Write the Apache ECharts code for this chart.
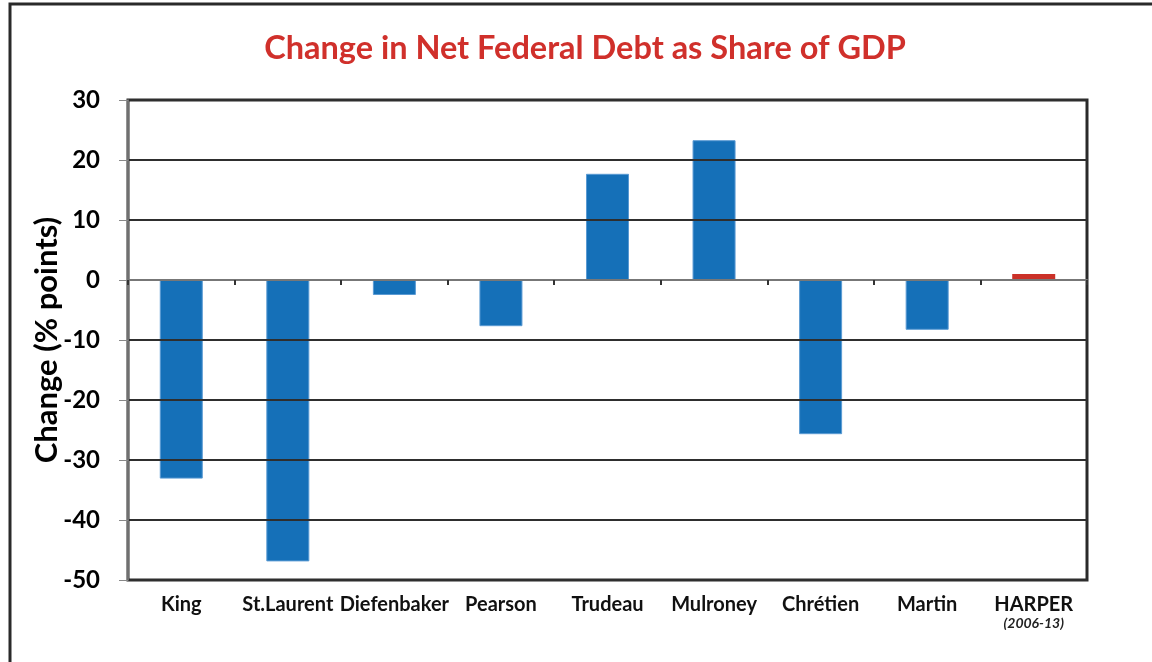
<!DOCTYPE html>
<html>
<head>
<meta charset="utf-8">
<script src="https://cdn.jsdelivr.net/npm/echarts@6/dist/echarts.min.js"></script>
<style>
  html, body { margin: 0; padding: 0; background: #ffffff; }
  #chart { width: 1152px; height: 662px; }
</style>
</head>
<body>
<div id="chart"></div>
<script>
// Prime ministers, in order of office
const categories = ['King', 'St.Laurent', 'Diefenbaker', 'Pearson', 'Trudeau', 'Mulroney', 'Chrétien', 'Martin', 'HARPER'];
// Change in net federal debt, percentage points of GDP
const debtChange = [-33.1, -46.9, -2.5, -7.7, 17.7, 23.3, -25.7, -8.3, 1.0];
const yTicks = { min: -50, max: 30, step: 10 };
const harperNote = '(2006-13)';

const FONT = 'Lato';
const BLUE = '#1570b8';
const RED = '#cb3128';

const chart = echarts.init(document.getElementById('chart'), null, { renderer: 'canvas' });

const barData = debtChange.map((v, i) => ({
  value: v,
  itemStyle: categories[i] === 'HARPER'
    ? { color: RED, borderColor: RED, borderWidth: 0 }
    : { color: BLUE, borderColor: '#5a9ad3', borderWidth: 1 }
}));

chart.setOption({
  animation: false,
  backgroundColor: '#ffffff',
  title: {
    text: 'Change in Net Federal Debt as Share of GDP',
    left: 580,
    textAlign: 'center',
    top: 27,
    textStyle: { fontFamily: FONT, fontWeight: 'bold', fontSize: 32.5, color: '#d0302b' }
  },
  grid: {
    left: 128, top: 100, right: 65, bottom: 82,
    show: true, borderColor: '#2a2a2a', borderWidth: 3, backgroundColor: 'transparent'
  },
  xAxis: [
    {
      type: 'category',
      data: categories,
      axisLine: { onZero: true, lineStyle: { color: '#777777', width: 2 } },
      axisTick: { show: true, inside: false, length: 5, lineStyle: { color: '#333333', width: 2 } },
      axisLabel: { show: false },
      splitLine: { show: false },
      z: 5
    },
    {
      type: 'category',
      data: categories,
      position: 'bottom',
      axisLine: { show: false, onZero: false },
      axisTick: { show: false },
      axisLabel: {
        margin: 14,
        interval: 0,
        fontFamily: FONT,
        fontWeight: 'bold',
        fontSize: 20,
        color: '#111111',
        formatter: (name) => name === 'HARPER' ? '{b|' + name + '}\n{n|' + harperNote + '}' : '{b|' + name + '}',
        rich: {
          b: { fontFamily: FONT, fontWeight: 'bold', fontSize: 20, color: '#111111', lineHeight: 22 },
          n: { fontFamily: FONT, fontStyle: 'italic', fontSize: 14, color: '#222222', lineHeight: 15 }
        }
      },
      splitLine: { show: false }
    }
  ],
  yAxis: {
    type: 'value',
    min: yTicks.min,
    max: yTicks.max,
    interval: yTicks.step,
    name: 'Change (% points)',
    nameLocation: 'middle',
    nameGap: 66,
    nameMoveOverlap: false,
    nameRotate: 90,
    nameTextStyle: { fontFamily: FONT, fontWeight: 'bold', fontSize: 31, color: '#000000' },
    axisLine: { show: true, lineStyle: { color: '#888888', width: 1.5 } },
    axisTick: { show: true, length: 9, lineStyle: { color: '#888888', width: 1 } },
    axisLabel: { margin: 28, fontFamily: FONT, fontWeight: 'bold', fontSize: 24, color: '#000000' },
    splitLine: { show: true, lineStyle: { color: '#2e2e2e', width: 2 } },
    z: 4
  },
  series: [{
    type: 'bar',
    xAxisIndex: 0,
    data: barData,
    barWidth: 43,
    z: 3
  }],
  graphic: [{
    type: 'rect',
    shape: { x: 10, y: 4, width: 1200, height: 700 },
    style: { fill: 'none', stroke: '#2a2a2a', lineWidth: 3 },
    silent: true
  }]
});
</script>
</body>
</html>
